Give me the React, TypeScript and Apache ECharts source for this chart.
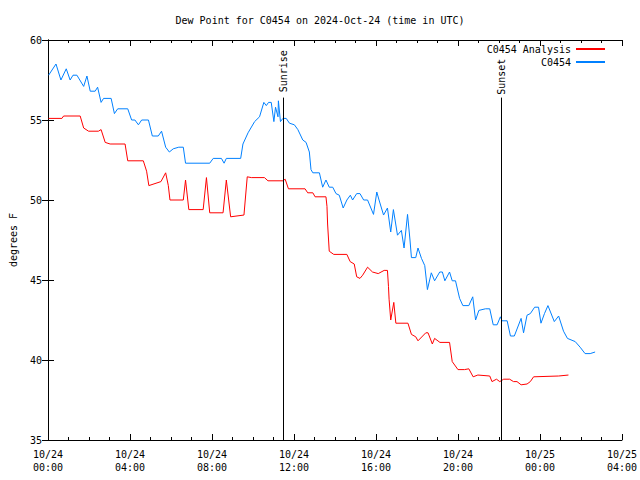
import React, { useEffect, useRef } from "react";
import * as echarts from "echarts";

// Hours since 2024-10-24 00:00 UTC
const obsHours = [0.03,0.39,0.63,0.89,1.08,1.22,1.41,1.74,1.90,2.06,2.30,2.42,2.59,2.71,3.08,3.24,3.40,3.89,4.08,4.24,4.41,4.57,4.90,5.09,5.38,5.54,5.74,5.92,6.11,6.38,6.60,6.71,7.89,8.06,8.46,8.59,8.70,9.40,9.51,9.76,10.08,10.32,10.53,10.65,10.76,10.89,11.02,11.10,11.22,11.24,11.34,11.46,11.62,11.78,12.02,12.19,12.43,12.59,12.75,12.83,12.92,13.24,13.40,13.56,13.72,13.89,14.05,14.21,14.40,14.58,14.75,14.86,15.06,15.22,15.40,15.59,15.88,16.04,16.15,16.37,16.56,16.72,16.85,17.05,17.24,17.37,17.54,17.66,17.73,17.94,18.05,18.22,18.38,18.51,18.70,18.86,19.11,19.24,19.36,19.59,19.72,19.88,20.08,20.24,20.53,20.72,20.86,21.02,21.34,21.55,21.72,21.91,22.07,22.15,22.40,22.56,22.75,23.08,23.20,23.37,23.53,23.74,23.93,24.05,24.22,24.39,24.70,24.91,25.15,25.34,25.72,25.96,26.20,26.45,26.69];
const obsValues = [57.8,58.5,57.5,58.2,57.5,57.8,57.8,57.1,57.75,56.8,56.8,57.05,56.1,56.35,56.35,55.4,55.7,55.7,55.0,55.0,54.7,55.0,55.0,54.0,54.0,54.3,53.3,53.0,53.2,53.3,53.3,52.3,52.3,52.6,52.6,52.3,52.6,52.6,53.5,54.2,54.9,55.2,56.1,55.9,56.1,56.1,54.9,55.8,55.2,56.2,54.9,55.1,55.1,54.8,54.7,54.4,53.75,53.6,53.0,51.9,51.7,51.7,50.8,51.25,50.8,50.8,50.4,50.3,49.5,50.0,50.3,50.0,50.4,50.4,50.0,50.0,49.1,50.5,50.0,49.06,49.5,48.0,49.4,47.8,48.1,47.0,49.1,47.5,46.4,46.4,47.0,46.35,45.9,44.4,45.45,44.95,45.5,45.5,44.95,45.5,44.95,44.95,43.85,43.4,43.4,43.95,42.5,43.1,43.2,43.2,42.2,42.2,42.7,42.45,42.45,41.5,41.5,42.6,41.7,42.8,42.9,43.3,43.3,42.3,42.9,43.4,42.4,42.75,41.8,41.35,41.15,40.8,40.4,40.4,40.5];

const anaHours = [0.03,0.68,0.76,1.57,1.74,1.98,2.46,2.59,2.79,3.03,3.76,3.89,4.65,4.81,4.92,5.51,5.74,5.87,5.95,6.60,6.71,6.87,7.57,7.73,7.89,8.54,8.70,8.91,9.56,9.72,9.92,10.56,10.73,11.46,11.57,11.73,12.54,12.67,12.92,13.03,13.56,13.61,13.64,13.72,13.94,14.58,14.74,14.94,15.06,15.22,15.35,15.59,15.83,16.11,16.40,16.56,16.61,16.64,16.72,16.87,16.97,17.56,17.73,17.94,18.05,18.43,18.54,18.75,18.86,19.12,19.59,19.72,20.00,20.32,20.53,20.74,20.97,21.55,21.66,21.88,22.04,22.23,22.52,22.71,22.88,23.08,23.37,23.53,23.69,24.91,25.39];
const anaValues = [55.1,55.1,55.25,55.25,54.5,54.3,54.3,54.4,53.6,53.5,53.5,52.45,52.45,51.8,50.9,51.15,51.7,50.9,50.0,50.0,51.25,49.4,49.4,51.4,49.2,49.2,51.25,48.95,49.06,51.45,51.4,51.4,51.2,51.2,51.3,50.7,50.7,50.45,50.45,50.2,50.2,49.6,48.5,46.8,46.6,46.6,46.15,46.0,45.2,45.1,45.3,45.8,45.5,45.4,45.6,45.6,44.6,43.8,42.5,43.6,42.3,42.3,41.6,41.45,41.2,41.7,41.7,41.0,41.35,41.1,41.1,39.9,39.4,39.4,39.45,38.95,39.06,39.0,38.65,38.8,38.65,38.8,38.8,38.65,38.65,38.45,38.5,38.65,38.95,39.0,39.06];

const sunriseHour = 11.47;
const sunsetHour = 22.12;
const eventLineTop = 56.4;
const sunriseLabelY = 58.05;
const sunsetLabelY = 57.7;

const FONT = "DejaVu Sans Mono";

export default function App() {
  const ref = useRef<HTMLDivElement>(null);
  useEffect(() => {
    const chart = echarts.init(ref.current!, null, { renderer: "svg" });
    const pad = (n: number) => (n < 10 ? "0" + n : "" + n);
    const fmtX = (v: number) => {
      const day = 24 + Math.floor(v / 24);
      const h = Math.round(v) % 24;
      return "10/" + day + "\n" + pad(h) + ":00";
    };
    const obs = obsHours.map((h, i) => [h, obsValues[i]]);
    const ana = anaHours.map((h, i) => [h, anaValues[i]]);
    const evLine = (x: number) => [
      { coord: [x, 35], symbol: "none" },
      { coord: [x, eventLineTop], symbol: "none" },
    ];
    const evLabel = (x: number, y: number, name: string) => ({
      coord: [x, y],
      symbol: "rect",
      symbolSize: 0,
      label: {
        show: true,
        position: "inside",
        formatter: name,
        rotate: 90,
        color: "#000",
        fontFamily: FONT,
        fontSize: 10,
      },
    });
    const axisLine = { show: true, lineStyle: { color: "#000", width: 1 } };
    const legendCommon = {
      right: 30,
      align: "right",
      itemWidth: 29,
      itemHeight: 2,
      icon: "rect",
      itemGap: 4,
      textStyle: { fontFamily: FONT, fontSize: 10, color: "#000" },
    };
    chart.setOption({
      animation: false,
      backgroundColor: "#fff",
      title: {
        text: "Dew Point for C0454 on 2024-Oct-24 (time in UTC)",
        left: "center",
        top: 10,
        textStyle: { fontFamily: FONT, fontSize: 10, fontWeight: "normal", color: "#000" },
      },
      legend: [
        { ...legendCommon, data: ["C0454 Analysis"], top: 39 },
        { ...legendCommon, data: ["C0454"], top: 52 },
      ],
      grid: { left: 46, right: 18, top: 40, bottom: 40 },
      xAxis: [
        {
          type: "value",
          min: 0,
          max: 28,
          interval: 4,
          axisLine,
          axisTick: { show: true, inside: true, length: 6, lineStyle: { color: "#000" } },
          minorTick: { show: true, splitNumber: 4, length: 3, lineStyle: { color: "#000" } },
          splitLine: { show: false },
          axisLabel: { formatter: fmtX, fontFamily: FONT, fontSize: 10, color: "#000", lineHeight: 13, margin: 8 },
        },
        {
          type: "value",
          position: "top",
          min: 0,
          max: 28,
          interval: 4,
          axisLine,
          axisTick: { show: true, inside: true, length: 6, lineStyle: { color: "#000" } },
          minorTick: { show: true, splitNumber: 4, length: 3, lineStyle: { color: "#000" } },
          splitLine: { show: false },
          axisLabel: { show: false },
        },
      ],
      yAxis: [
        {
          type: "value",
          min: 35,
          max: 60,
          interval: 5,
          name: "degrees F",
          nameLocation: "middle",
          nameGap: 30,
          nameRotate: 90,
          nameTextStyle: { fontFamily: FONT, fontSize: 10, color: "#000" },
          axisLine,
          axisTick: { show: true, inside: true, length: 6, lineStyle: { color: "#000" } },
          splitLine: { show: false },
          axisLabel: { fontFamily: FONT, fontSize: 10, color: "#000", margin: 6 },
        },
        {
          type: "value",
          position: "right",
          min: 35,
          max: 60,
          interval: 5,
          axisLine,
          axisTick: { show: true, inside: true, length: 6, lineStyle: { color: "#000" } },
          splitLine: { show: false },
          axisLabel: { show: false },
        },
      ],
      series: [
        {
          name: "C0454 Analysis",
          type: "line",
          data: ana,
          showSymbol: false,
          color: "#ff0000",
          lineStyle: { width: 1, color: "#ff0000" },
          markLine: {
            silent: true,
            symbol: "none",
            label: { show: false },
            lineStyle: { color: "#000", width: 1, type: "solid" },
            data: [evLine(sunriseHour), evLine(sunsetHour)],
          },
          markPoint: {
            silent: true,
            data: [
              evLabel(sunriseHour, sunriseLabelY, "Sunrise"),
              evLabel(sunsetHour, sunsetLabelY, "Sunset"),
            ],
          },
        },
        {
          name: "C0454",
          type: "line",
          data: obs,
          showSymbol: false,
          color: "#0080ff",
          lineStyle: { width: 1, color: "#0080ff" },
        },
      ],
    });
    return () => chart.dispose();
  }, []);
  return <div ref={ref} style={{ width: 640, height: 480, position: "absolute", left: 0, top: 0 }} />;
}
